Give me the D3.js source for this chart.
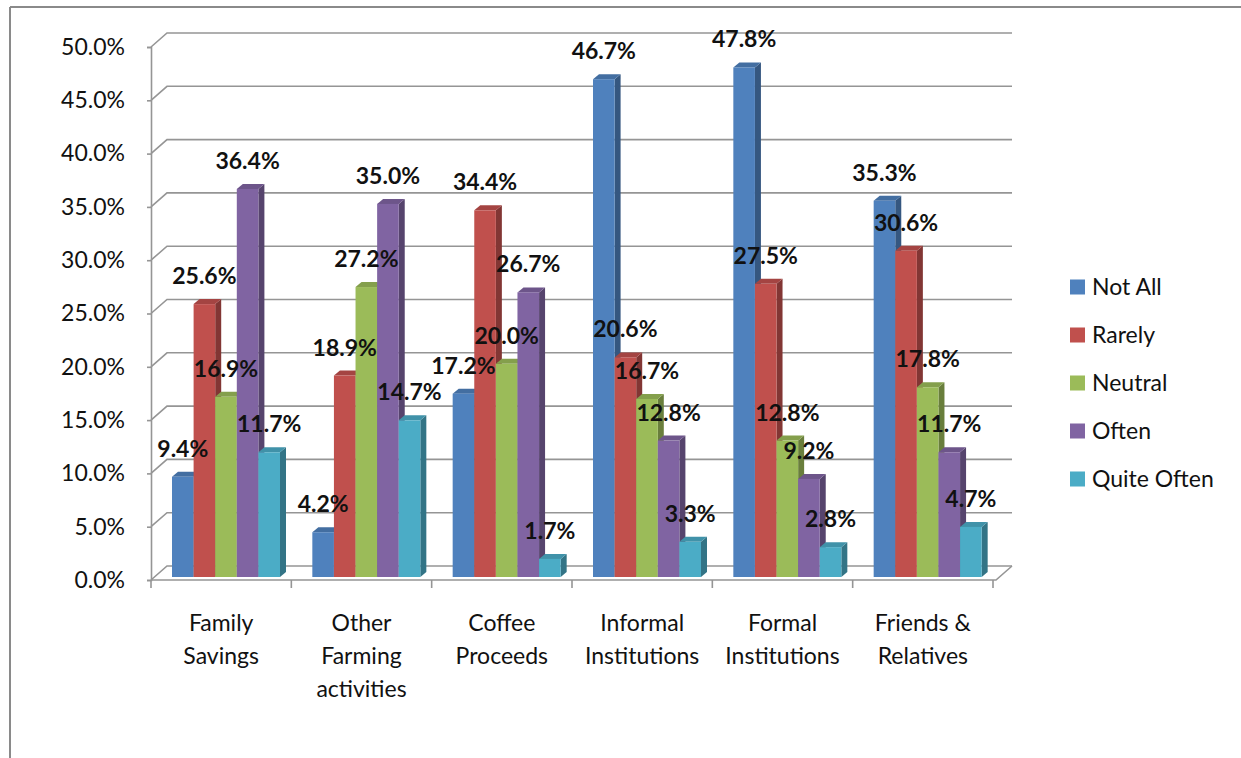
<!DOCTYPE html>
<html>
<head>
<meta charset="utf-8">
<script src="https://cdn.jsdelivr.net/npm/d3@7"></script>
<style>
  body { margin: 0; background: #fff; }
  svg { display: block; font-family: Lato, "Open Sans", sans-serif; }
</style>
</head>
<body>
<svg id="chart" width="1241" height="758"></svg>
<script>
var categories = [["Family", "Savings"], ["Other", "Farming", "activities"], ["Coffee", "Proceeds"],
                  ["Informal", "Institutions"], ["Formal", "Institutions"], ["Friends &", "Relatives"]];
var seriesNames = ["Not All", "Rarely", "Neutral", "Often", "Quite Often"];
var colors = ["#4F81BD", "#C0504D", "#9BBB59", "#8064A2", "#4BACC6"];

var notAll     = [9.4, 4.2, 17.2, 46.7, 47.8, 35.3];
var rarely     = [25.6, 18.9, 34.4, 20.6, 27.5, 30.6];
var neutral    = [16.9, 27.2, 20.0, 16.7, 12.8, 17.8];
var often      = [36.4, 35.0, 26.7, 12.8, 9.2, 11.7];
var quiteOften = [11.7, 14.7, 1.7, 3.3, 2.8, 4.7];
var yTicks = [0, 5, 10, 15, 20, 25, 30, 35, 40, 45, 50];

var seriesValues = [notAll, rarely, neutral, often, quiteOften];

var svg = d3.select("#chart");

// outer frame (top and left edges only show)
svg.append("line").attr("x1", 10).attr("y1", 7).attr("x2", 1241).attr("y2", 7)
   .attr("stroke", "#8a8a8a").attr("stroke-width", 2);
svg.append("line").attr("x1", 10).attr("y1", 7).attr("x2", 10).attr("y2", 758)
   .attr("stroke", "#8a8a8a").attr("stroke-width", 2);

/* 3d frame: wall depth offset */
var wallDx = 16, wallDy = -14;
var barDx = 6, barDy = -5;      // depth of each bar
var barOffX = 3, barOffY = -3;  // where bar front sits inside the floor

var y = d3.scaleLinear().domain([0, 50]).range([580, 47]);
var x0 = d3.scaleBand().domain(d3.range(categories.length)).range([151, 993]);
var x1 = d3.scaleBand().domain(d3.range(seriesNames.length)).range([18, 126]);

var grid = svg.append("g").attr("stroke", "#959595").attr("stroke-width", 1.6).attr("fill", "none");
yTicks.forEach(function(t) {
  var yy = y(t);
  grid.append("path")
    .attr("d", "M151," + yy + "L" + (151 + wallDx) + "," + (yy + wallDy) + "L" + (996 + wallDx) + "," + (yy + wallDy));
});
// floor front edge and right edge
grid.append("path").attr("d", "M151,580L996,580L" + (996 + wallDx) + "," + (580 + wallDy));

// y axis
var yAxis = d3.axisLeft(y).tickValues(yTicks).tickSize(4).tickPadding(22)
  .tickFormat(function(d) { return d3.format(".1f")(d) + "%"; });
var ya = svg.append("g").attr("transform", "translate(151,0)").call(yAxis);
ya.select(".domain").attr("stroke", "#959595").attr("stroke-width", 1.6);
ya.selectAll(".tick line").attr("stroke", "#959595").attr("stroke-width", 1.6);
ya.selectAll("text").attr("font-size", 23).attr("fill", "#111").attr("font-family", "Lato, sans-serif");

// x axis ticks
var xa = svg.append("g").attr("stroke", "#959595").attr("stroke-width", 1.6);
d3.range(categories.length + 1).forEach(function(i) {
  var xx = 151 + i * x0.bandwidth();
  xa.append("line").attr("x1", xx).attr("x2", xx).attr("y1", 580).attr("y2", 588);
});

// category labels
var catG = svg.append("g").attr("font-size", 23).attr("fill", "#111").attr("text-anchor", "middle");
categories.forEach(function(lines, i) {
  var t = catG.append("text").attr("x", x0(i) + x0.bandwidth() / 2).attr("y", 631);
  lines.forEach(function(l, k) {
    t.append("tspan").attr("x", x0(i) + x0.bandwidth() / 2).attr("dy", k ? 33 : 0).text(l);
  });
});

// bars
var bars = svg.append("g");
var labels = [];
categories.forEach(function(c, ci) {
  seriesValues.forEach(function(vals, si) {
    var v = vals[ci];
    var xl = x0(ci) + barOffX + x1(si);
    var w = x1.bandwidth();
    var yb = y(0) + barOffY;
    var yt = y(v) + barOffY;
    var col = d3.color(colors[si]);
    // right side
    bars.append("path")
      .attr("d", "M" + (xl + w) + "," + yb + "L" + (xl + w + barDx) + "," + (yb + barDy) +
                 "L" + (xl + w + barDx) + "," + (yt + barDy) + "L" + (xl + w) + "," + yt + "Z")
      .attr("fill", col.darker(1.1));
    // top cap
    bars.append("path")
      .attr("d", "M" + xl + "," + yt + "L" + (xl + barDx) + "," + (yt + barDy) +
                 "L" + (xl + w + barDx) + "," + (yt + barDy) + "L" + (xl + w) + "," + yt + "Z")
      .attr("fill", col.darker(0.45));
    // front
    bars.append("rect").attr("x", xl).attr("y", yt).attr("width", w).attr("height", yb - yt)
      .attr("fill", colors[si]);
    labels.push({ x: xl + w / 2, y: yt - 20, text: d3.format(".1f")(v) + "%" });
  });
});

svg.append("g").selectAll("text").data(labels).join("text")
  .attr("x", function(d) { return d.x; })
  .attr("y", function(d) { return d.y; })
  .attr("text-anchor", "middle")
  .attr("font-size", 23).attr("font-weight", "bold").attr("fill", "#111")
  .text(function(d) { return d.text; });

// legend
var leg = svg.append("g");
seriesNames.forEach(function(name, i) {
  var cy = 287 + i * 48;
  leg.append("rect").attr("x", 1070).attr("y", cy - 7.5).attr("width", 15).attr("height", 15).attr("fill", colors[i]);
  leg.append("text").attr("x", 1092).attr("y", cy + 8).attr("font-size", 23).attr("fill", "#111").text(name);
});
</script>
</body>
</html>
